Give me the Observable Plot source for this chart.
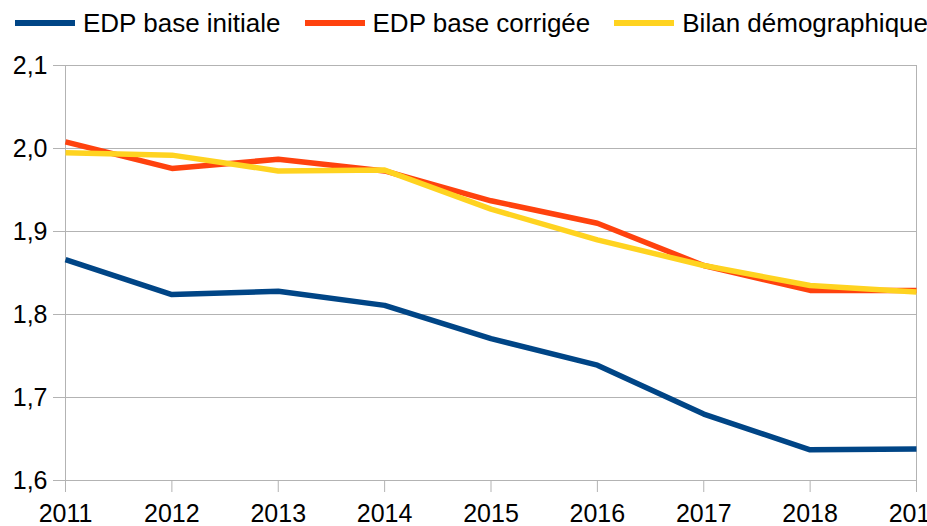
<!DOCTYPE html>
<html>
<head>
<meta charset="utf-8">
<script src="https://cdn.jsdelivr.net/npm/d3@7"></script>
<script src="https://cdn.jsdelivr.net/npm/@observablehq/plot@0.6"></script>
<style>
  html, body { margin: 0; padding: 0; background: #fff; overflow: hidden; width: 927px; height: 526px; }
  body { font-family: "Liberation Sans", Arial, sans-serif; }
  #legend { height: 38px; padding-top: 4px; display: flex; align-items: center; font-size: 26px; color: #000; white-space: nowrap; }
  .item { display: flex; align-items: center; }
  .sw { width: 60px; height: 6px; margin-right: 8px; }
</style>
</head>
<body>
<div id="legend"></div>
<div id="chart"></div>
<script>
const years = [2011, 2012, 2013, 2014, 2015, 2016, 2017, 2018, 2019];
const edpInitiale = [1.866, 1.824, 1.828, 1.811, 1.771, 1.739, 1.680, 1.637, 1.638];
const edpCorrigee = [2.008, 1.976, 1.987, 1.973, 1.937, 1.910, 1.859, 1.829, 1.829];
const bilanDemo   = [1.995, 1.992, 1.973, 1.974, 1.927, 1.890, 1.859, 1.835, 1.827];
const seriesNames = ["EDP base initiale", "EDP base corrigée", "Bilan démographique"];
const seriesColors = ["#004586", "#ff420e", "#ffd320"];
const yTicks = [1.6, 1.7, 1.8, 1.9, 2.0, 2.1];

const seriesValues = [edpInitiale, edpCorrigee, bilanDemo];
const data = seriesNames.flatMap((name, i) =>
  years.map((year, j) => ({series: name, year, value: seriesValues[i][j]})));

// Legend
const legend = document.getElementById("legend");
seriesNames.forEach((name, i) => {
  const item = document.createElement("div");
  item.className = "item";
  item.style.marginLeft = i === 0 ? "15px" : "24px";
  const sw = document.createElement("div");
  sw.className = "sw";
  sw.style.background = seriesColors[i];
  const label = document.createElement("span");
  label.textContent = name;
  item.appendChild(sw);
  item.appendChild(label);
  legend.appendChild(item);
});

const grid = "#b3b3b3";
const fmt = d => d3.format(".1f")(d).replace(".", ",");

const chart = Plot.plot({
  width: 927,
  height: 484,
  marginTop: 23,
  marginBottom: 46,
  marginLeft: 65,
  marginRight: 11,
  style: {fontFamily: "Liberation Sans, Arial, sans-serif", fontSize: "25px", color: "#000", background: "#fff"},
  x: {domain: [2011, 2019]},
  y: {domain: [1.6, 2.1]},
  color: {domain: seriesNames, range: seriesColors},
  marks: [
    Plot.gridY(yTicks, {stroke: grid, strokeOpacity: 1, strokeWidth: 1}),
    Plot.ruleX([2011, 2019], {stroke: grid, strokeWidth: 1}),
    Plot.axisY(yTicks, {tickSize: 12, tickPadding: 6, stroke: grid, tickFormat: fmt, fill: "#000", label: null, fontSize: 25}),
    Plot.axisX(years, {tickSize: 12, tickPadding: 12, stroke: grid, tickFormat: d => String(d), fill: "#000", label: null, fontSize: 25}),
    Plot.line(data, {x: "year", y: "value", z: "series", stroke: "series", strokeWidth: 5.5, strokeLinecap: "butt", strokeLinejoin: "miter"})
  ]
});
document.getElementById("chart").appendChild(chart);
</script>
</body>
</html>
